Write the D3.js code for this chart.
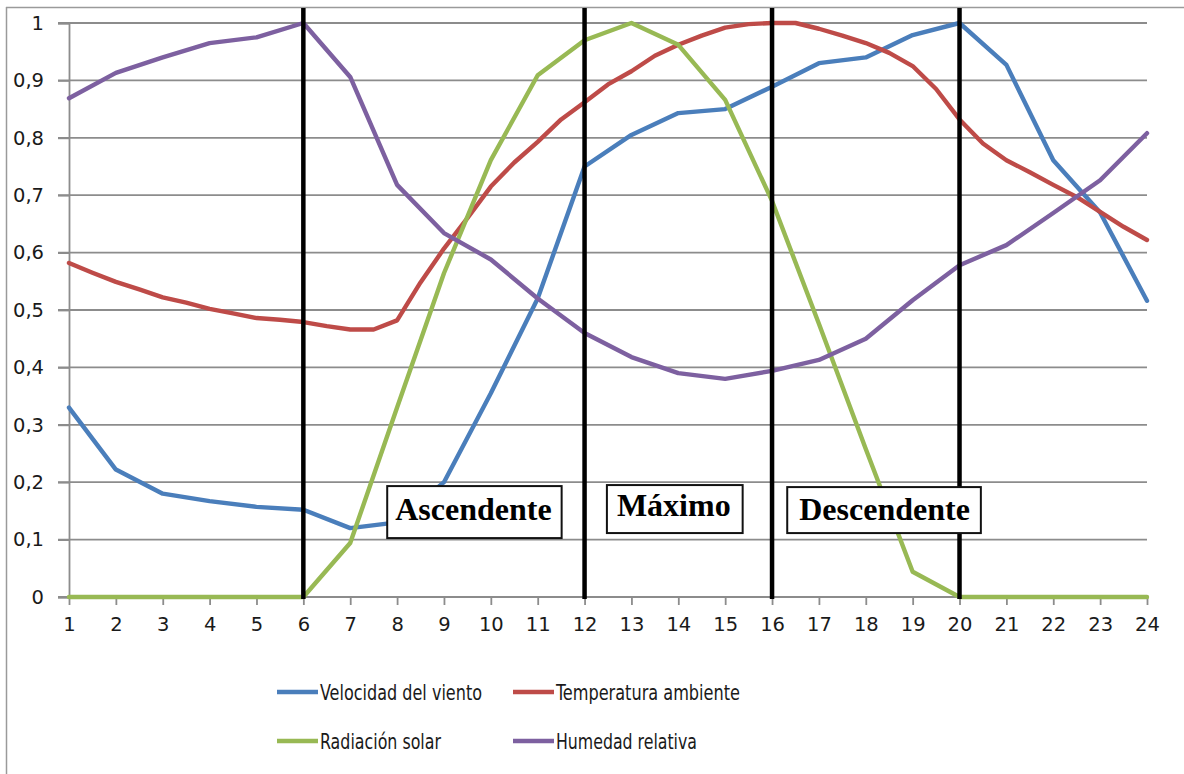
<!DOCTYPE html>
<html>
<head>
<meta charset="utf-8">
<script src="https://cdn.jsdelivr.net/npm/d3@7"></script>
<style>
  html, body { margin: 0; padding: 0; background: #fff; }
  svg { display: block; }
</style>
</head>
<body>
<svg id="chart" width="1184" height="774"></svg>
<script>
// Hourly categories (1..24)
const hours = [1,2,3,4,5,6,7,8,9,10,11,12,13,14,15,16,17,18,19,20,21,22,23,24];

// Normalised hourly series
const velocidadViento = [0.33,0.222,0.18,0.167,0.157,0.152,0.12,0.13,0.2,0.355,0.52,0.75,0.805,0.843,0.85,0.889,0.93,0.94,0.979,1.0,0.927,0.761,0.67,0.516];
const radiacionSolar  = [0,0,0,0,0,0,0.094,0.33,0.564,0.761,0.909,0.97,1.0,0.962,0.866,0.69,0.476,0.258,0.044,0,0,0,0,0];
const humedadRelativa = [0.869,0.913,0.94,0.965,0.975,1.0,0.906,0.718,0.634,0.588,0.52,0.46,0.418,0.39,0.38,0.394,0.413,0.45,0.517,0.578,0.613,0.669,0.726,0.808];

// Temperature is sampled every half hour
const tempHours = [1,1.5,2,2.5,3,3.5,4,4.5,5,5.5,6,6.5,7,7.5,8,8.5,9,9.5,10,10.5,11,11.5,12,12.5,13,13.5,14,14.5,15,15.5,16,16.5,17,17.5,18,18.5,19,19.5,20,20.5,21,21.5,22,22.5,23,23.5,24];
const temperaturaAmbiente = [0.582,0.565,0.549,0.536,0.522,0.513,0.502,0.494,0.486,0.483,0.479,0.472,0.466,0.466,0.482,0.548,0.607,0.66,0.715,0.757,0.793,0.832,0.862,0.893,0.916,0.943,0.962,0.978,0.992,0.998,1.0,1.0,0.99,0.978,0.965,0.948,0.925,0.885,0.832,0.79,0.761,0.74,0.718,0.697,0.671,0.645,0.622];

// Y tick values and their labels
const yTicks = [0,0.1,0.2,0.3,0.4,0.5,0.6,0.7,0.8,0.9,1];
const yTickLabels = ["0","0,1","0,2","0,3","0,4","0,5","0,6","0,7","0,8","0,9","1"];

// Phase boundaries (hours) and phase labels
const phaseBoundaries = [6,12,16,20];
const phaseLabels = ["Ascendente","Máximo","Descendente"];

const seriesNames = ["Velocidad del viento","Temperatura ambiente","Radiación solar","Humedad relativa"];
const seriesColors = ["#4a7ebb","#be4b48","#98b954","#7d60a0"];

const svg = d3.select("#chart");

const x = d3.scaleLinear().domain([1,24]).range([69,1147]);
const y = d3.scaleLinear().domain([0,1]).range([597,23]);

// Outer chart frame (top and left edges visible)
svg.append("line").attr("x1",6).attr("x2",1184).attr("y1",7.5).attr("y2",7.5)
  .attr("stroke","#9a9a9a").attr("stroke-width",1.5);
svg.append("line").attr("x1",6.5).attr("x2",6.5).attr("y1",7).attr("y2",774)
  .attr("stroke","#9a9a9a").attr("stroke-width",1.5);

// Horizontal gridlines
svg.append("g").selectAll("line").data(yTicks.slice(1)).join("line")
  .attr("x1",58).attr("x2",x(24))
  .attr("y1",d=>y(d)).attr("y2",d=>y(d))
  .attr("stroke","#8c8c8c").attr("stroke-width",1.8);

// Y axis
const yAxis = d3.axisLeft(y).tickValues(yTicks).tickSize(11).tickPadding(14)
  .tickFormat((d,i)=>yTickLabels[i]);
const gy = svg.append("g").attr("transform",`translate(${x(1)},0)`).call(yAxis);
gy.select(".domain").attr("stroke","#8c8c8c").attr("stroke-width",1.8);
gy.selectAll(".tick line").attr("stroke","#8c8c8c").attr("stroke-width",1.8);
gy.selectAll("text").attr("font-family","'DejaVu Sans', Verdana, sans-serif")
  .attr("font-size",19.5).attr("fill","#1a1a1a");

// X axis
const xAxis = d3.axisBottom(x).tickValues(hours).tickSize(8).tickPadding(12)
  .tickFormat(d3.format("d"));
const gx = svg.append("g").attr("transform",`translate(0,${y(0)})`).call(xAxis);
gx.select(".domain").attr("stroke","#8c8c8c").attr("stroke-width",1.8)
  .attr("d",`M${x(1)-11},0H${x(24)}`);
gx.selectAll(".tick line").attr("stroke","#8c8c8c").attr("stroke-width",1.8);
gx.selectAll("text").attr("font-family","'DejaVu Sans', Verdana, sans-serif")
  .attr("font-size",19.5).attr("fill","#1a1a1a");

// Series lines
const line = d3.line().x(d=>x(d[0])).y(d=>y(d[1]));
const seriesData = [
  hours.map((h,i)=>[h,velocidadViento[i]]),
  tempHours.map((h,i)=>[h,temperaturaAmbiente[i]]),
  hours.map((h,i)=>[h,radiacionSolar[i]]),
  hours.map((h,i)=>[h,humedadRelativa[i]])
];
const drawOrder = [0,1,2,3];
svg.append("g").selectAll("path").data(drawOrder).join("path")
  .attr("d",i=>line(seriesData[i]))
  .attr("fill","none")
  .attr("stroke",i=>seriesColors[i])
  .attr("stroke-width",4.4)
  .attr("stroke-linejoin","round")
  .attr("stroke-linecap","round");

// Phase boundary lines
svg.append("g").selectAll("line").data(phaseBoundaries).join("line")
  .attr("x1",d=>x(d)).attr("x2",d=>x(d))
  .attr("y1",8).attr("y2",y(0)+2)
  .attr("stroke","#000").attr("stroke-width",4.5);

// Phase label boxes: text anchor (hour, value) and box padding
const phaseLayout = [
  {hour:7.96, val:0.134, padL:8, padR:10, top:34, bottom:18},
  {hour:12.69, val:0.141, padL:10, padR:12, top:31, bottom:17},
  {hour:16.58, val:0.134, padL:12, padR:11, top:33, bottom:13}
];
const labelsG = svg.append("g");
phaseLabels.forEach((lab,i)=>{
  const L = phaseLayout[i];
  const g = labelsG.append("g");
  const rect = g.append("rect").attr("fill","#fff").attr("stroke","#111").attr("stroke-width",2);
  const t = g.append("text")
    .attr("x",x(L.hour)).attr("y",y(L.val))
    .attr("font-family","'Liberation Serif','Times New Roman',serif")
    .attr("font-weight","bold").attr("font-size",32).attr("fill","#000")
    .text(lab);
  const w = t.node().getComputedTextLength();
  rect.attr("x",x(L.hour)-L.padL).attr("y",y(L.val)-L.top)
    .attr("width",w+L.padL+L.padR).attr("height",L.top+L.bottom);
});

// Legend
const legendItems = [
  {i:0, sx:277, ty:692, len:162},
  {i:1, sx:513, ty:692, len:184},
  {i:2, sx:277, ty:741, len:121},
  {i:3, sx:513, ty:741, len:141}
];
const lg = svg.append("g");
legendItems.forEach(it=>{
  lg.append("line").attr("x1",it.sx).attr("x2",it.sx+41)
    .attr("y1",it.ty).attr("y2",it.ty)
    .attr("stroke",seriesColors[it.i]).attr("stroke-width",4.4);
  lg.append("text").attr("x",it.sx+43).attr("y",it.ty+7.5)
    .attr("font-family","'Liberation Sans Narrow','DejaVu Sans Condensed','Open Sans',sans-serif")
    .attr("font-size",21).attr("fill","#1a1a1a")
    .attr("textLength",it.len).attr("lengthAdjust","spacingAndGlyphs")
    .text(seriesNames[it.i]);
});
</script>
</body>
</html>
